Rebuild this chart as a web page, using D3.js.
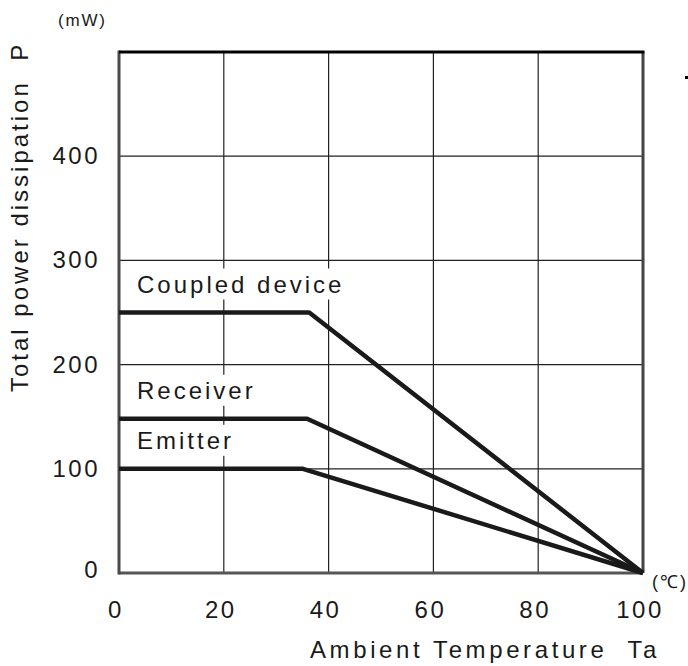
<!DOCTYPE html>
<html>
<head>
<meta charset="utf-8">
<script src="https://cdn.jsdelivr.net/npm/d3@7"></script>
<style>
    html, body { margin: 0; padding: 0; background: #fff; }
    svg text { font-family: "Liberation Sans", Arial, sans-serif; fill: #1a1a1a; white-space: pre; }
</style>
</head>
<body>
<svg id="chart"></svg>
<script>
    // values
    var seriesNames = ['Coupled device', 'Receiver', 'Emitter'];
    var ratedPower = [250, 148, 100];      // mW, flat part
    var kneeTemp = [36.3, 35.9, 35.1];     // degC where derating starts
    var zeroTemp = [100, 100, 100];        // degC where power reaches 0
    var xTicks = [0, 20, 40, 60, 80, 100];
    var yTicks = [0, 100, 200, 300, 400];
    var yTop = 500;

    var width = 688;
    var height = 666;

    var x = d3.scaleLinear().domain([0, 100]).range([119, 643]);
    var y = d3.scaleLinear().domain([0, yTop]).range([573, 52]);

    var svg = d3.select('#chart')
        .attr('width', width)
        .attr('height', height);

    // grid
    svg.selectAll('line.vgrid')
        .data(xTicks.slice(1, -1))
        .enter()
        .append('line')
        .attr('x1', function (d) { return x(d); })
        .attr('x2', function (d) { return x(d); })
        .attr('y1', y(yTop))
        .attr('y2', y(0))
        .attr('stroke', '#222')
        .attr('stroke-width', 1.2);

    svg.selectAll('line.hgrid')
        .data(yTicks.slice(1))
        .enter()
        .append('line')
        .attr('x1', x(0))
        .attr('x2', x(100))
        .attr('y1', function (d) { return y(d); })
        .attr('y2', function (d) { return y(d); })
        .attr('stroke', '#222')
        .attr('stroke-width', 1.2);

    // series labels with white boxes that cut the grid
    var labels = svg.selectAll('g.series-label')
        .data(seriesNames)
        .enter()
        .append('g');

    labels.append('text')
        .attr('x', x(0) + 18)
        .attr('y', function (d, i) { return y(ratedPower[i]) - 20; })
        .attr('font-size', 24)
        .attr('letter-spacing', 3)
        .text(function (d) { return d; });

    labels.each(function () {
        var g = d3.select(this);
        var b = g.select('text').node().getBBox();
        g.insert('rect', 'text')
            .attr('x', b.x - 3)
            .attr('y', b.y - 2)
            .attr('width', b.width + 4)
            .attr('height', b.height + 4)
            .attr('fill', '#fff');
    });

    // frame
    svg.append('line')
        .attr('x1', x(100)).attr('x2', x(100))
        .attr('y1', y(yTop)).attr('y2', y(0))
        .attr('stroke', '#444').attr('stroke-width', 3);
    svg.append('line')
        .attr('x1', x(0)).attr('x2', x(100))
        .attr('y1', y(0)).attr('y2', y(0))
        .attr('stroke', '#555').attr('stroke-width', 3);
    svg.append('line')
        .attr('x1', x(0)).attr('x2', x(0))
        .attr('y1', y(yTop) - 1.5).attr('y2', y(0) + 1.5)
        .attr('stroke', '#4a4a4a').attr('stroke-width', 3);
    svg.append('line')
        .attr('x1', x(0)).attr('x2', x(100) + 1.5)
        .attr('y1', y(yTop)).attr('y2', y(yTop))
        .attr('stroke', '#000').attr('stroke-width', 3);

    // derating curves
    var line = d3.line()
        .x(function (d) { return x(d[0]); })
        .y(function (d) { return y(d[1]); });

    svg.selectAll('path.curve')
        .data(seriesNames)
        .enter()
        .append('path')
        .attr('d', function (d, i) {
            return line([[0, ratedPower[i]], [kneeTemp[i], ratedPower[i]], [zeroTemp[i], 0]]);
        })
        .attr('fill', 'none')
        .attr('stroke', '#1a1a1a')
        .attr('stroke-width', 4.5)
        .attr('stroke-linejoin', 'round');

    // tick labels
    svg.selectAll('text.xtick')
        .data(xTicks)
        .enter()
        .append('text')
        .attr('x', function (d) { return x(d) - 3; })
        .attr('y', 618)
        .attr('text-anchor', 'middle')
        .attr('font-size', 24)
        .attr('letter-spacing', 2.5)
        .text(function (d) { return d; });

    svg.selectAll('text.ytick')
        .data(yTicks)
        .enter()
        .append('text')
        .attr('x', 100)
        .attr('y', function (d) { return y(d) + 8; })
        .attr('dy', function (d) { return d === 0 ? -3 : 0; })
        .attr('text-anchor', 'end')
        .attr('font-size', 24)
        .attr('letter-spacing', 2.5)
        .text(function (d) { return d; });

    // axis titles and units
    svg.append('text')
        .attr('x', 310)
        .attr('y', 658)
        .attr('font-size', 24)
        .attr('letter-spacing', 3.6)
        .text('Ambient Temperature  Ta');

    svg.append('text')
        .attr('transform', 'translate(28,392) rotate(-90)')
        .attr('font-size', 24)
        .attr('letter-spacing', 3)
        .text('Total power dissipation  P');

    svg.append('text')
        .attr('x', 58)
        .attr('y', 26)
        .attr('font-size', 17)
        .attr('letter-spacing', 1.8)
        .text('(mW)');

    svg.append('text')
        .attr('x', 652)
        .attr('y', 588)
        .attr('font-size', 18)
        .attr('letter-spacing', 2)
        .text('(\u2103)');

    // stray mark at the right edge of the original
    svg.append('rect')
        .attr('x', 685).attr('y', 76)
        .attr('width', 3).attr('height', 3)
        .attr('fill', '#000');
</script>
</body>
</html>
